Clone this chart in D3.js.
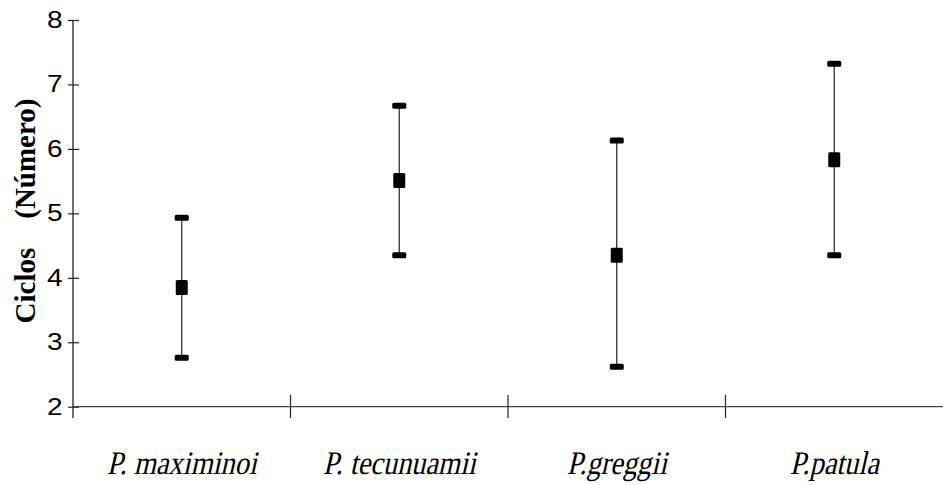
<!DOCTYPE html>
<html>
<head>
<meta charset="utf-8">
<script src="https://cdn.jsdelivr.net/npm/d3@7"></script>
<style>
  html, body { margin: 0; padding: 0; background: #fff; }
  svg { display: block; }
</style>
</head>
<body>
<svg id="chart" width="943" height="485"></svg>
<script>
// Data
const categories = ["P. maximinoi", "P. tecunuamii", "P.greggii", "P.patula"];
const means = [3.85, 5.51, 4.35, 5.83];
const highs = [4.93, 6.67, 6.13, 7.32];
const lows = [2.76, 4.35, 2.62, 4.35];
const yTicks = [2, 3, 4, 5, 6, 7, 8];
const yTitle = "Ciclos    (Número)";

(function () {
const svg = d3.select("#chart");
const mLeft = 73, mRight = 943, mTop = 20, mBottom = 406.7;

const x = d3.scaleBand().domain(categories).range([mLeft, mRight]).padding(0);
const y = d3.scaleLinear().domain([2, 8]).range([mBottom, mTop]);

const axisColor = "#222";

// Y axis
const yAxis = d3.axisLeft(y).tickValues(yTicks).tickSize(0).tickPadding(10).tickFormat(d3.format("d"));
const gy = svg.append("g").attr("transform", `translate(${mLeft},0)`).call(yAxis);
gy.select(".domain").remove();
gy.selectAll("text")
  .attr("x", 0)
  .attr("transform", "translate(-10.5,0) scale(1.22,1)")
  .style("font-family", "'Liberation Sans', Arial, sans-serif")
  .style("font-size", "23px")
  .attr("fill", "#000");
gy.selectAll(".tick").append("line")
  .attr("x1", -5).attr("x2", 6)
  .attr("stroke", axisColor).attr("stroke-width", 1.2);
svg.append("line")
  .attr("x1", mLeft).attr("x2", mLeft)
  .attr("y1", mTop).attr("y2", 418)
  .attr("stroke", axisColor).attr("stroke-width", 1.3);

// X axis
svg.append("line")
  .attr("x1", mLeft).attr("x2", mRight)
  .attr("y1", mBottom).attr("y2", mBottom)
  .attr("stroke", "#444").attr("stroke-width", 1.3);
svg.selectAll(".xdiv")
  .data(categories.slice(1))
  .enter().append("line")
  .attr("class", "xdiv")
  .attr("x1", d => x(d)).attr("x2", d => x(d))
  .attr("y1", 395).attr("y2", 418)
  .attr("stroke", axisColor).attr("stroke-width", 1.2);

svg.selectAll(".xlab")
  .data(categories)
  .enter().append("text")
  .attr("class", "xlab")
  .attr("transform", d => `translate(${x(d) + x.bandwidth() / 2},474) scale(0.86,1) skewX(-15)`)
  .attr("text-anchor", "middle")
  .style("font-family", "'Liberation Serif', 'Times New Roman', serif")
  .style("font-size", "33px")
  .attr("fill", "#000")
  .text(d => d);

// Y title
svg.append("text")
  .attr("transform", `translate(35, 211) rotate(-90)`)
  .attr("text-anchor", "middle")
  .style("font-family", "'Liberation Serif', 'Times New Roman', serif")
  .style("font-weight", "bold")
  .style("font-size", "29px")
  .style("white-space", "pre")
  .attr("fill", "#000")
  .text(yTitle);

// Error bars
const data = categories.map((c, i) => ({ c, mean: means[i], hi: highs[i], lo: lows[i] }));
const cx = d => x(d.c) + x.bandwidth() / 2;
const g = svg.append("g");
g.selectAll(".eb").data(data).enter().append("line")
  .attr("x1", cx).attr("x2", cx)
  .attr("y1", d => y(d.hi)).attr("y2", d => y(d.lo))
  .attr("stroke", "#333").attr("stroke-width", 1.3);
["hi", "lo"].forEach(k => {
  g.selectAll(".cap" + k).data(data).enter().append("rect")
    .attr("x", d => cx(d) - 7).attr("y", d => y(d[k]) - 3)
    .attr("width", 14).attr("height", 6).attr("rx", 1.5)
    .attr("fill", "#000");
});
g.selectAll(".mean").data(data).enter().append("rect")
  .attr("x", d => cx(d) - 6).attr("y", d => y(d.mean) - 7.5)
  .attr("width", 12).attr("height", 15).attr("rx", 1.5)
  .attr("fill", "#000");
})();
</script>
</body>
</html>
